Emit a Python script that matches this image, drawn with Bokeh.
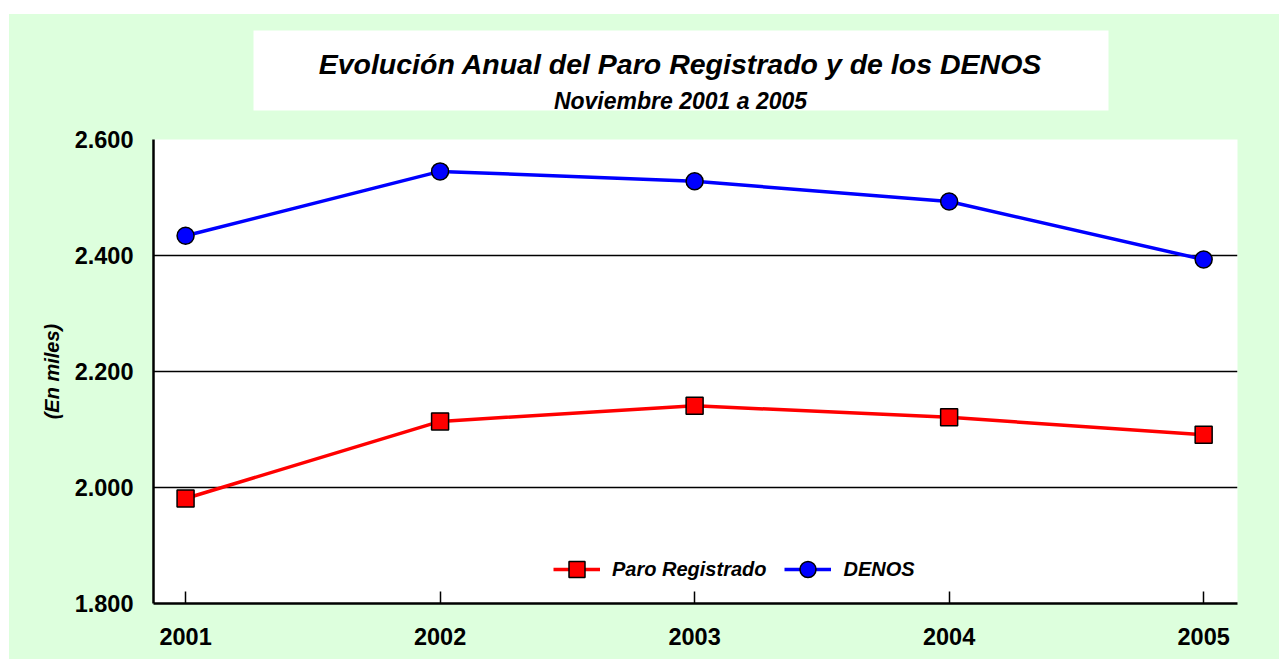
from bokeh.plotting import figure
from bokeh.models import Range1d, FixedTicker, Legend, LegendItem, Spacer
from bokeh.layouts import column, row
from bokeh.embed import file_html
from bokeh.resources import INLINE
from bokeh.core.properties import value

# ---- data ----
years = [2001, 2002, 2003, 2004, 2005]
x_tick_labels = ["2001", "2002", "2003", "2004", "2005"]
paro = [1981, 2114, 2141, 2121, 2091]
denos = [2434, 2545, 2528, 2493, 2393]
y_ticks = [1800, 2000, 2200, 2400, 2600]
y_tick_labels = ["1.800", "2.000", "2.200", "2.400", "2.600"]
title_text = "Evolución Anual del Paro Registrado y de los DENOS"
subtitle_text = "Noviembre 2001 a 2005"
y_label = "(En miles)"
series_names = ["Paro Registrado", "DENOS"]

FONT = "Liberation Sans"
GREEN = "#DDFFDD"

# ---- header (title box); its frame is aligned with the chart frame ----
hdr = figure(width=1270, height=111, x_range=Range1d(153, 1237), y_range=Range1d(125, 14),
             x_axis_type=None, y_axis_type=None,
             min_border_left=144, min_border_right=42, min_border_top=0, min_border_bottom=0,
             output_backend="svg", toolbar_location=None,
             background_fill_color=GREEN, border_fill_color=GREEN, outline_line_color=None)
hdr.grid.visible = False
hdr.quad(left=[253], right=[1108], top=[30], bottom=[110], fill_color="white", line_color=None)
hdr.text(x=[680], y=[63], text=[title_text], text_align="center", text_baseline="alphabetic",
         text_font=value(FONT), text_font_size="28.5px", text_font_style="bold italic",
         text_color="black")
hdr.text(x=[680], y=[100], text=[subtitle_text], text_align="center", text_baseline="alphabetic",
         text_font=value(FONT), text_font_size="23px", text_font_style="bold italic",
         text_color="black")

# ---- main chart ----
p = figure(
    frame_width=1084, frame_height=464,
    min_border_left=144, min_border_right=42, min_border_top=14, min_border_bottom=56,
    x_range=Range1d(2000.874, 2005.133), y_range=Range1d(1800, 2600),
    output_backend="svg", toolbar_location=None,
    background_fill_color="white", border_fill_color=GREEN,
    outline_line_color=None,
)

p.xaxis.ticker = FixedTicker(ticks=years)
p.xaxis.major_label_overrides = {y: s for y, s in zip(years, x_tick_labels)}
p.xaxis.major_tick_in = 12
p.xaxis.major_tick_out = 0
p.xaxis.major_tick_line_width = 1.5
p.xaxis.major_tick_line_color = "black"
p.xaxis.minor_tick_line_color = None
p.xaxis.major_label_standoff = 24
p.xaxis.axis_line_width = 2.5
p.xaxis.axis_line_color = "black"

p.yaxis.ticker = FixedTicker(ticks=y_ticks)
p.yaxis.major_label_overrides = {y: s for y, s in zip(y_ticks, y_tick_labels)}
p.yaxis.major_tick_in = 0
p.yaxis.major_tick_out = 0
p.yaxis.minor_tick_line_color = None
p.yaxis.major_label_standoff = 20
p.yaxis.axis_line_width = 2.5
p.yaxis.axis_line_color = "black"
p.yaxis.axis_label = y_label
p.yaxis.axis_label_standoff = 9
p.yaxis.axis_label_text_font = FONT
p.yaxis.axis_label_text_font_size = "20px"
p.yaxis.axis_label_text_font_style = "bold italic"
p.yaxis.axis_label_text_color = "black"

for ax in (p.xaxis, p.yaxis):
    ax.major_label_text_font = FONT
    ax.major_label_text_font_size = "23.5px"
    ax.major_label_text_font_style = "bold"
    ax.major_label_text_color = "black"

p.xgrid.grid_line_color = None
p.ygrid.grid_line_color = "black"
p.ygrid.grid_line_width = 1.5
p.ygrid.grid_line_alpha = 1

l1 = p.line(years, paro, line_color="#FF0000", line_width=3.5)
s1 = p.scatter(years, paro, marker="square", size=17, fill_color="#FF0000",
               line_color="black", line_width=1.5)
l2 = p.line(years, denos, line_color="#0000FF", line_width=3.5)
s2 = p.scatter(years, denos, marker="circle", size=17, fill_color="#0000FF",
               line_color="black", line_width=1.5)

legend = Legend(
    items=[LegendItem(label=series_names[0], renderers=[l1, s1]),
           LegendItem(label=series_names[1], renderers=[l2, s2])],
    location=(400, 14), orientation="horizontal",
    padding=0, margin=0, spacing=18, label_standoff=12,
    glyph_width=47, glyph_height=40,
    border_line_color=None, background_fill_alpha=0,
    label_text_font=FONT, label_text_font_size="20px",
    label_text_font_style="bold italic", label_text_color="black",
)
p.add_layout(legend)

chart = column(hdr, p, styles={"background-color": GREEN})
layout = column(Spacer(height=14), row(Spacer(width=9), chart))
open("out.html", "w").write(file_html(layout, INLINE))
